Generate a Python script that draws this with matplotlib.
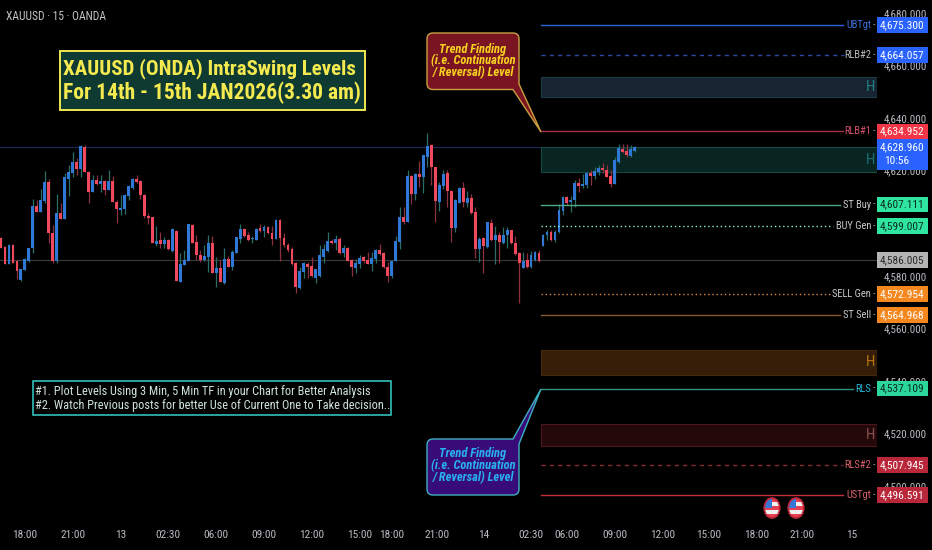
import matplotlib
matplotlib.use("Agg")
import matplotlib.pyplot as plt
from matplotlib.patches import Rectangle, Ellipse, PathPatch
from matplotlib.path import Path
from matplotlib.transforms import blended_transform_factory

plt.rcParams['font.family'] = ['Roboto Condensed', 'Roboto', 'DejaVu Sans']

# XAUUSD 15 min candles
opens = [4594.3,4590.8,4584.5,4591.7,4585.5,4578.4,4582.2,4585.5,4590.4,4606.6,4604.4,4608.6,4615.7,4596.2,4585.5,4603.8,4601.7,4617.0,4619.0,4623.3,
         4620.5,4629.1,4619.6,4612.0,4616.5,4614.9,4616.1,4612.6,4616.1,4608.2,4605.0,4605.3,4610.4,4613.3,4616.7,4616.2,4610.8,4602.9,4602.2,4592.1,
         4593.6,4592.1,4593.6,4589.6,4597.2,4577.8,4584.1,4585.8,4599.4,4592.9,4588.0,4586.0,4587.3,4592.6,4581.2,4583.0,4577.1,4586.5,4583.2,4588.8,
         4593.9,4597.7,4595.4,4593.9,4593.6,4598.1,4597.2,4598.7,4596.2,4594.1,4601.2,4594.3,4591.8,4590.1,4584.7,4575.4,4581.6,4584.5,4583.7,4579.0,
         4580.0,4587.3,4589.6,4593.4,4592.6,4594.1,4588.5,4590.4,4586.0,4582.8,4584.5,4587.0,4586.0,4584.5,4586.5,4589.8,4588.8,4583.5,4580.0,4585.5,
         4592.9,4602.2,4600.5,4618.0,4611.1,4618.7,4617.7,4625.3,4629.9,4621.3,4608.2,4614.2,4619.0,4612.4,4598.1,4607.6,4613.4,4607.8,4609.6,4604.3,
         4590.1,4594.4,4591.1,4600.2,4593.6,4595.5,4592.6,4595.5,4597.4,4592.6,4588.8,4582.8,4586.0,4583.2,4586.0,4588.8,4591.3,4595.5,4596.8,4593.6,
         4596.8,4604.8,4609.9,4608.2,4608.8,4615.2,4614.2,4614.5,4619.2,4618.0,4619.6,4621.0,4620.3,4618.0,4614.9,4623.4,4628.1,4627.4,4625.6,4627.6]
highs = [4594.6,4591.3,4592.1,4592.1,4586.0,4582.7,4586.6,4590.4,4609.1,4608.8,4612.9,4620.0,4617.0,4599.3,4611.1,4607.8,4619.0,4622.2,4627.2,4624.7,
         4629.8,4629.8,4620.0,4618.3,4618.3,4618.3,4616.5,4620.3,4618.0,4608.8,4610.6,4611.1,4614.5,4617.1,4618.3,4616.5,4611.1,4604.0,4602.5,4599.0,
         4596.8,4594.6,4593.9,4598.1,4597.4,4588.5,4589.8,4599.6,4599.7,4595.5,4589.8,4591.7,4595.5,4595.2,4587.0,4586.0,4590.4,4587.5,4589.8,4594.9,
         4599.6,4598.1,4596.8,4595.2,4598.1,4599.6,4599.3,4599.0,4599.0,4601.5,4601.5,4596.2,4592.4,4590.8,4585.4,4583.5,4585.4,4585.4,4587.0,4582.5,
         4591.6,4592.1,4596.5,4593.9,4595.5,4594.9,4591.6,4590.8,4586.3,4586.3,4587.9,4587.5,4589.2,4589.0,4590.1,4592.0,4589.2,4585.4,4586.0,4595.2,
         4606.0,4606.0,4620.3,4618.3,4619.0,4623.8,4626.0,4634.5,4630.1,4621.5,4615.8,4620.3,4620.3,4612.6,4609.1,4613.7,4615.7,4612.4,4611.1,4606.3,
         4594.6,4594.6,4600.6,4601.7,4599.0,4596.8,4598.7,4598.4,4597.4,4595.2,4589.2,4589.0,4588.8,4589.6,4589.6,4589.8,4595.9,4597.4,4597.4,4597.4,
         4607.3,4610.4,4610.4,4610.4,4616.5,4617.1,4618.7,4619.6,4620.3,4621.5,4622.2,4623.0,4622.2,4620.3,4625.1,4630.1,4630.1,4630.1,4629.8,4629.4]
lows = [4590.4,4584.5,4584.5,4584.7,4578.7,4578.1,4582.2,4585.2,4588.8,4604.4,4604.4,4607.6,4592.6,4585.0,4585.0,4601.7,4601.7,4610.4,4617.7,4618.3,
        4617.5,4619.6,4607.6,4612.0,4614.5,4612.0,4610.7,4612.6,4608.2,4600.2,4603.1,4603.5,4608.8,4612.9,4615.2,4609.1,4601.9,4599.7,4592.4,4591.3,
        4590.4,4590.4,4589.8,4589.2,4577.9,4577.8,4584.1,4585.5,4592.4,4586.0,4585.4,4585.8,4581.6,4581.2,4575.6,4577.6,4576.9,4583.2,4582.2,4588.8,
        4592.6,4594.9,4593.4,4592.4,4593.6,4596.8,4594.6,4595.9,4591.7,4593.9,4585.5,4591.1,4589.2,4584.2,4573.6,4575.1,4579.0,4579.0,4579.7,4577.4,
        4579.7,4584.7,4589.2,4592.1,4589.8,4588.3,4587.0,4585.5,4580.0,4581.0,4582.8,4585.0,4584.5,4582.0,4585.0,4587.9,4583.0,4577.8,4579.2,4585.5,
        4590.3,4599.7,4600.5,4607.3,4608.8,4613.9,4611.4,4621.5,4614.5,4600.6,4604.8,4612.9,4606.3,4593.0,4596.7,4607.6,4606.3,4606.0,4603.5,4586.6,
        4585.4,4581.2,4590.4,4593.4,4584.5,4584.7,4592.1,4590.4,4592.1,4587.9,4569.5,4582.8,4582.8,4582.8,4585.8,4585.2,4591.3,4593.6,4593.4,4593.0,
        4596.4,4603.1,4606.9,4604.4,4606.0,4612.0,4613.3,4613.3,4614.5,4616.7,4618.3,4619.0,4617.5,4613.7,4614.9,4623.0,4626.6,4625.3,4625.1,4627.1]
closes = [4590.4,4584.5,4591.7,4585.0,4582.0,4582.5,4586.3,4590.4,4606.6,4604.4,4608.8,4615.7,4596.2,4585.5,4603.8,4601.7,4617.5,4619.6,4623.3,4620.5,
          4629.4,4619.6,4612.0,4616.5,4614.9,4616.1,4612.6,4616.1,4608.2,4605.3,4605.8,4610.7,4614.2,4617.0,4615.8,4610.7,4602.8,4601.9,4592.6,4593.4,
          4592.1,4593.6,4590.1,4597.7,4578.1,4584.5,4586.0,4599.6,4592.6,4587.9,4586.0,4587.5,4592.6,4581.2,4583.0,4577.6,4586.3,4583.5,4589.0,4594.6,
          4597.8,4595.2,4593.6,4594.3,4597.7,4597.2,4598.7,4596.2,4594.1,4601.2,4594.3,4591.6,4589.8,4584.5,4575.6,4582.0,4584.7,4583.2,4580.0,4582.5,
          4587.8,4590.1,4593.1,4592.4,4593.9,4588.5,4590.4,4585.8,4583.2,4584.7,4586.6,4585.5,4584.5,4586.8,4589.8,4588.3,4583.2,4580.0,4585.8,4593.4,
          4602.2,4600.5,4618.0,4611.1,4618.7,4617.5,4625.8,4629.4,4621.3,4608.6,4614.5,4618.7,4612.4,4598.1,4608.8,4613.4,4608.1,4609.5,4603.8,4590.1,
          4594.1,4591.3,4600.5,4593.6,4595.5,4592.9,4595.5,4597.4,4592.6,4588.3,4584.7,4585.8,4583.2,4587.8,4589.0,4585.5,4595.5,4596.8,4593.6,4596.8,
          4605.0,4609.9,4607.8,4608.8,4615.2,4614.2,4614.9,4619.2,4618.0,4620.0,4621.0,4620.3,4617.7,4614.9,4624.1,4628.6,4627.2,4626.0,4628.1,4628.9]

# y axis and x axis
price_ticks = [4680, 4660, 4640, 4620, 4600, 4580, 4560, 4540, 4520, 4500]
time_pos = [6, 18, 30, 42, 54, 66, 78, 90, 98, 109.5, 121, 133, 142, 154, 166, 177.5, 189.5, 201, 213.5]
time_labels = ['18:00', '21:00', '13', '02:30', '06:00', '09:00', '12:00', '15:00', '18:00', '21:00', '14',
               '02:30', '06:00', '09:00', '12:00', '15:00', '18:00', '21:00', '15']

# levels
level_names = ['UBTgt', 'RLB#2', 'RLB#1', 'ST Buy', 'BUY Gen', 'SELL Gen', 'ST Sell', 'RLS', 'RLS#2', 'USTgt']
level_prices = [4675.300, 4664.057, 4634.952, 4607.111, 4599.007, 4572.954, 4564.968, 4537.109, 4507.945, 4496.591]
level_colors = ['#2f62d8', '#2d4aa8', '#a82c42', '#4fa882', '#8ff0c4', '#d9893f', '#8a5a2c', '#2f9480', '#8a2a35', '#c22f3c']
level_styles = ['-', (0, (3, 3)), '-', '-', (0, (1, 2)), (0, (1, 2)), '-', '-', (0, (3, 3)), '-']
text_colors = ['#3a6fd8', '#b8b8b8', '#d0506a', '#c8c8c8', '#c8c8c8', '#c8c8c8', '#c8c8c8', '#2ab4d8', '#d8606a', '#d8606a']
tag_colors = ['#2962ff', '#2962ff', '#f23645', '#2ee6a0', '#2ee6a0', '#f5871f', '#f5871f', '#2bd69a', '#b8283a', '#b8283a']
tag_text = ['white', 'white', 'white', '#0a2a20', '#0a2a20', 'white', 'white', '#0a2a20', 'white', 'white']
line_ends = [211.3, 211.6, 211.3, 210.5, 208.8, 208, 210.5, 213.8, 211.3, 211.3]

# H zones
zone_low = [4648.0, 4619.5, 4542.3, 4515.2]
zone_high = [4655.6, 4629.0, 4551.8, 4523.6]
zone_fill = ['#1a2a38', '#0a2a26', '#3a2208', '#2a0a0c']
zone_edge = ['#20404a', '#145048', '#4a2c0c', '#541820']
zone_h = ['#1f7f80', '#1a6f70', '#b8720f', '#8a5050']

last_price = 4628.960
grey_level = 4586.005

fig = plt.figure(figsize=(9.32, 5.5), dpi=100, facecolor='black')
ax = fig.add_axes([0, 30 / 550, 877 / 932, 520 / 550], facecolor='black')
ax.set_xlim(-0.25, 219.8)
ax.set_ylim(4487.08, 4684.95)
for s in ax.spines.values():
    s.set_visible(False)

# right hand price scale + time scale
ax.yaxis.tick_right()
ax.set_yticks(price_ticks)
ax.set_yticklabels([f'{p:,.3f}' for p in price_ticks])
ax.set_xticks(time_pos)
ax.set_xticklabels(time_labels)
ax.tick_params(axis='y', length=0, pad=5, colors='#b8bbc2', labelsize=7.9)
ax.tick_params(axis='x', length=0, pad=7.5, colors='#b8bbc2', labelsize=8.2)

# faint lines
ax.axhline(last_price, color='#1c2a5c', lw=0.8, zorder=1)
ax.axhline(grey_level, color='#3a3a3a', lw=0.8, zorder=1)

# candles
idx = list(range(len(opens)))
up = [c >= o for o, c in zip(opens, closes)]
wick_c = ['#2b6e68' if u else '#8c3040' for u in up]
body_c = ['#2f78d6' if u else '#f0485c' for u in up]
ax.vlines(idx, lows, highs, colors=wick_c, lw=0.9, zorder=2)
ax.bar(idx, [abs(c - o) for o, c in zip(opens, closes)], bottom=[min(o, c) for o, c in zip(opens, closes)],
       width=0.72, color=body_c, linewidth=0, zorder=3)

# zones
for lo, hi, fc, ec, hc in zip(zone_low, zone_high, zone_fill, zone_edge, zone_h):
    ax.add_patch(Rectangle((135.5, lo), 219.8 - 135.5, hi - lo, facecolor=fc, edgecolor=ec, lw=0.8, zorder=1.5, alpha=0.9))
    ax.text(218.2, (lo + hi) / 2, 'H', color=hc, fontsize=11, ha='center', va='center', zorder=4)

# levels + price tags
tr = blended_transform_factory(ax.transAxes, ax.transData)
for name, p, c, st, tc, tagc, tagt, end in zip(level_names, level_prices, level_colors, level_styles,
                                                text_colors, tag_colors, tag_text, line_ends):
    ax.plot([135.5, end], [p, p], color=c, ls=st, lw=1.0, zorder=4)
    ax.text(218.3, p, name, color=tc, fontsize=7.6, ha='right', va='center', zorder=4)
    ax.text(219.0, p, '-', color='#909090', fontsize=7, ha='center', va='center', zorder=4)
    ax.add_patch(Rectangle((1.0, p - 3.0), 51 / 877, 6.0, transform=tr, facecolor=tagc, lw=0, clip_on=False, zorder=5))
    ax.text(1 + 25.5 / 877, p, f'{p:,.3f}', transform=tr, color=tagt, fontsize=8.2, ha='center', va='center', zorder=6, clip_on=False)

# grey tag, last price tag with countdown
ax.add_patch(Rectangle((1.0, grey_level - 3.0), 51 / 877, 6.0, transform=tr, facecolor='#b4b4b4', lw=0, clip_on=False, zorder=5))
ax.text(1 + 25.5 / 877, grey_level, f'{grey_level:,.3f}', transform=tr, color='#2a2a2a', fontsize=8.2, ha='center', va='center', zorder=6)
ax.add_patch(Rectangle((1.0, last_price - 8.8), 51 / 877, 11.8, transform=tr, facecolor='#2962ff', lw=0, clip_on=False, zorder=5))
ax.text(1 + 25.5 / 877, last_price, f'{last_price:,.3f}', transform=tr, color='white', fontsize=8.2, ha='center', va='center', zorder=6)
ax.text(1 + 7 / 877, last_price - 5.4, '10:56', transform=tr, color='white', fontsize=8.2, ha='left', va='center', zorder=6)

# overlay in picture pixels for the drawn annotations
ov = fig.add_axes([0, 0, 1, 1], facecolor='none')
ov.set_xlim(0, 932)
ov.set_ylim(550, 0)
ov.axis('off')

ov.text(6, 16, 'XAUUSD · 15 · OANDA', color='#c4c4c4', fontsize=8.3, va='center')

ov.add_patch(Rectangle((59.5, 51), 305, 59, facecolor='#0e3a32', edgecolor='#f0e850', lw=1.4))
ov.text(63, 69, 'XAUUSD (ONDA) IntraSwing Levels', color='#f4ea50', fontsize=15, fontweight='bold', va='center')
ov.text(63, 93, 'For 14th - 15th JAN2026(3.30 am)', color='#f4ea50', fontsize=15.5, fontweight='bold', va='center')

ov.add_patch(Rectangle((32.5, 381), 358, 34, facecolor='black', edgecolor='#38cfc8', lw=1.1))
ov.text(35, 391, '#1. Plot Levels Using 3 Min, 5 Min TF in your Chart for Better Analysis', color='#cfe4dc', fontsize=8.85, va='center')
ov.text(35, 405, '#2. Watch Previous posts for better Use of Current One to Take decision..', color='#cfe4dc', fontsize=8.85, va='center')


def callout(x0, y0, x1, y1, tail, fc, ec):
    # rounded box with a pointer to the level, tail = tip x, tip y, base x, base y
    r = 6
    tx, ty, bx, by = tail
    if ty < y0:
        verts = [(x0 + r, y0), (bx, y0), (tx, ty), (x1, by), (x1, y1 - r), (x1, y1), (x1 - r, y1),
                 (x0 + r, y1), (x0, y1), (x0, y1 - r), (x0, y0 + r), (x0, y0), (x0 + r, y0)]
        codes = [Path.MOVETO, Path.LINETO, Path.LINETO, Path.LINETO, Path.LINETO, Path.CURVE3, Path.CURVE3,
                 Path.LINETO, Path.CURVE3, Path.CURVE3, Path.LINETO, Path.CURVE3, Path.CURVE3]
    else:
        verts = [(x0 + r, y0), (x1 - r, y0), (x1, y0), (x1, y0 + r), (x1, by), (tx, ty), (bx, y1),
                 (x0 + r, y1), (x0, y1), (x0, y1 - r), (x0, y0 + r), (x0, y0), (x0 + r, y0)]
        codes = [Path.MOVETO, Path.LINETO, Path.CURVE3, Path.CURVE3, Path.LINETO, Path.LINETO, Path.LINETO,
                 Path.LINETO, Path.CURVE3, Path.CURVE3, Path.LINETO, Path.CURVE3, Path.CURVE3]
    ov.add_patch(PathPatch(Path(verts, codes), facecolor=fc, edgecolor=ec, lw=1.0))


callout(427, 33, 519, 89.5, (541, 132, 513, 84), '#7a1422', '#c8a040')
for y, t in zip([49, 61, 73], ['Trend Finding', '(i.e. Continuation', '/ Reversal) Level']):
    ov.text(473, y, t, color='#f5d21f', fontsize=9, style='italic', fontweight='bold', ha='center', va='center')

callout(427, 439, 519, 495, (541, 389, 513, 444), '#380c78', '#3cb0c0')
for y, t in zip([454, 466, 478], ['Trend Finding', '(i.e. Continuation', '/ Reversal) Level']):
    ov.text(473, y, t, color='#28b0f0', fontsize=9, style='italic', fontweight='bold', ha='center', va='center')

# the two economic event flags
for cx in [772, 796]:
    clip = Ellipse((cx, 508), 15, 19, transform=ov.transData)
    for k in range(5):
        r = ov.add_patch(Rectangle((cx - 8, 498 + k * 4), 16, 4, facecolor='#e84050' if k % 2 == 0 else '#f0f0f0', lw=0))
        r.set_clip_path(clip)
    r = ov.add_patch(Rectangle((cx - 8, 498), 8, 10, facecolor='#3a78d8', lw=0))
    r.set_clip_path(clip)
    ov.add_patch(Ellipse((cx, 508), 15.5, 20, facecolor='none', edgecolor='#c0283a', lw=1.2))

fig.savefig('out.png', dpi=100, facecolor='black')
